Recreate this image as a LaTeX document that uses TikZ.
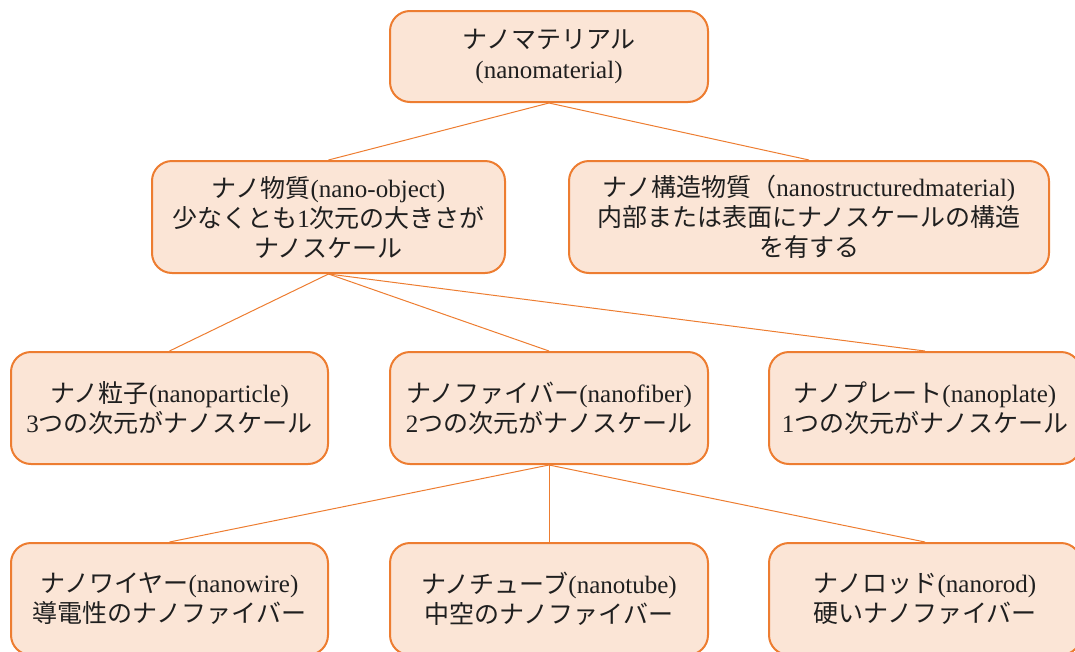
\documentclass[tikz,border=0pt]{standalone}
\usepackage{fontspec}
\setmainfont{Liberation Serif}
\newfontfamily\jp{Noto Sans CJK JP}
\definecolor{boxorange}{HTML}{ED7D31}
\definecolor{boxfill}{HTML}{FBE5D6}
\definecolor{txt}{HTML}{1F1F1F}
\begin{document}
\begin{tikzpicture}[x=1pt,y=-1pt,
  box/.style={draw=boxorange, fill=boxfill, line width=2pt, rounded corners=20pt,
    align=center, inner sep=0pt, text=txt,
    font=\fontsize{25}{30}\selectfont},
  conn/.style={draw=boxorange, line width=1pt}]
\useasboundingbox (0,0) rectangle (1075,651);
\node[box, minimum width=318pt, minimum height=91pt] (top) at (549,56.5)
  {{\jp ナノマテリアル}\\(nanomaterial)};
\node[box, minimum width=353pt, minimum height=112pt] (n1) at (328.5,217)
  {{\jp ナノ物質}(nano-object)\\{\jp 少なくとも}1{\jp 次元の大きさが}\\{\jp ナノスケール}};
\node[box, minimum width=480pt, minimum height=112pt] (n2) at (809,217)
  {{\jp ナノ構造物質（}nanostructuredmaterial)\\{\jp 内部または表面にナノスケールの構造}\\{\jp を有する}};
\node[box, minimum width=317pt, minimum height=112pt] (p1) at (169.5,408)
  {{\jp ナノ粒子}(nanoparticle)\\3{\jp つの次元がナノスケール}};
\node[box, minimum width=318pt, minimum height=112pt] (p2) at (549,408)
  {{\jp ナノファイバー}(nanofiber)\\2{\jp つの次元がナノスケール}};
\node[box, minimum width=312pt, minimum height=112pt] (p3) at (925,408)
  {{\jp ナノプレート}(nanoplate)\\1{\jp つの次元がナノスケール}};
\node[box, minimum width=317pt, minimum height=112pt] (w1) at (169.5,599)
  {{\jp ナノワイヤー}(nanowire)\\{\jp 導電性のナノファイバー}};
\node[box, minimum width=318pt, minimum height=112pt] (w2) at (549,599)
  {{\jp ナノチューブ}(nanotube)\\{\jp 中空のナノファイバー}};
\node[box, minimum width=312pt, minimum height=112pt] (w3) at (925,599)
  {{\jp ナノロッド}(nanorod)\\{\jp 硬いナノファイバー}};
\draw[conn] (top.south) -- (n1.north);
\draw[conn] (top.south) -- (n2.north);
\draw[conn] (n1.south) -- (p1.north);
\draw[conn] (n1.south) -- (p2.north);
\draw[conn] (n1.south) -- (p3.north);
\draw[conn] (p2.south) -- (w1.north);
\draw[conn] (p2.south) -- (w2.north);
\draw[conn] (p2.south) -- (w3.north);
\end{tikzpicture}
\end{document}
